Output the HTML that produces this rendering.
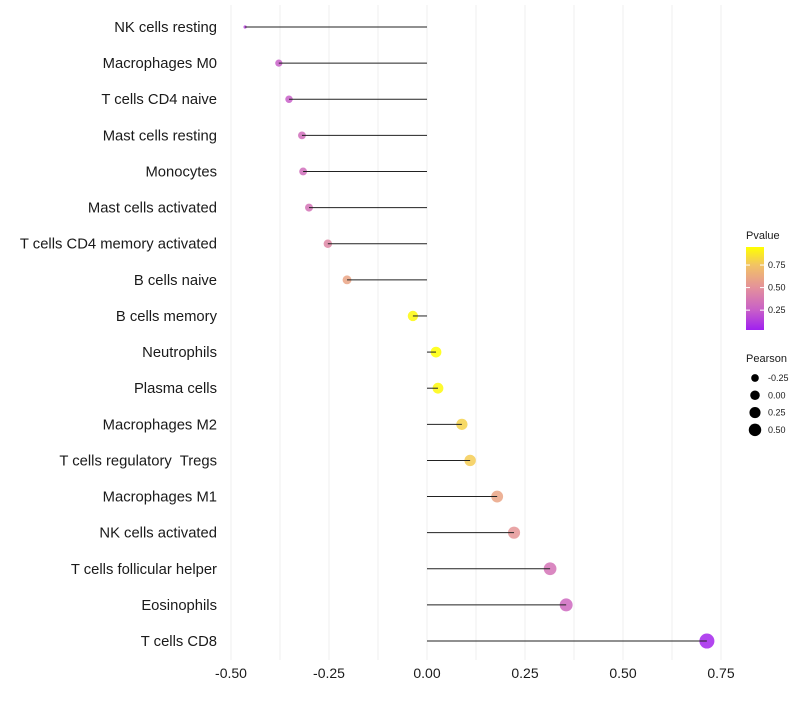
<!DOCTYPE html>
<html><head><meta charset="utf-8"><style>
body{margin:0;background:#fff;font-family:"Liberation Sans",sans-serif;}
text{white-space:pre;}
</style></head><body>
<svg id="c" width="800" height="700" xmlns="http://www.w3.org/2000/svg"></svg>
<script>
const categories=["NK cells resting","Macrophages M0","T cells CD4 naive","Mast cells resting","Monocytes","Mast cells activated","T cells CD4 memory activated","B cells naive","B cells memory","Neutrophils","Plasma cells","Macrophages M2","T cells regulatory  Tregs","Macrophages M1","NK cells activated","T cells follicular helper","Eosinophils","T cells CD8"];
const pearson=[-0.464,-0.378,-0.352,-0.319,-0.316,-0.301,-0.253,-0.204,-0.036,0.023,0.028,0.089,0.110,0.179,0.222,0.314,0.355,0.714];
const pvalue=[0.15,0.25,0.25,0.32,0.32,0.35,0.45,0.6,0.93,0.95,0.93,0.8,0.78,0.6,0.52,0.35,0.3,0.05];
const xTicks=[-0.5,-0.25,0,0.25,0.5,0.75];
const xTickLabels=["-0.50","-0.25","0.00","0.25","0.50","0.75"];
const pTicks=[0.25,0.5,0.75];
const sizeTicks=[-0.25,0,0.25,0.5];

const NS="http://www.w3.org/2000/svg";
const svg=document.getElementById('c');
function el(t,a,p){const e=document.createElementNS(NS,t);for(const k in a)e.setAttribute(k,a[k]);(p||svg).appendChild(e);return e;}
const x=v=>427+v*392;
const y=i=>27+i*36.12;
const rad=v=>v<-0.43?1.6:Math.sqrt(Math.max(1,28+40*v));
const stops=[[0.03,[160,32,240]],[0.25,[200,95,200]],[0.5,[228,145,155]],[0.75,[242,195,100]],[0.95,[255,255,0]]];
function col(p){p=Math.max(0.03,Math.min(0.95,p));for(let i=0;i<stops.length-1;i++){const a=stops[i],b=stops[i+1];if(p<=b[0]){const t=(p-a[0])/(b[0]-a[0]);const c=a[1].map((v,j)=>Math.round(v+(b[1][j]-v)*t));return `rgb(${c})`;}}return 'rgb(255,255,0)';}
const py=p=>330-(p-0.03)/(0.92)*83;

for(let v=-0.5;v<=0.76;v+=0.125){
 const g=el('line',{x1:x(v),x2:x(v),y1:5,y2:660,stroke:'#efefef','stroke-width':1});
 
 
}
xTicks.forEach((v,i)=>{
 const t=el('text',{x:x(v),y:678,'text-anchor':'middle','font-size':14,fill:'#1a1a1a'});t.textContent=xTickLabels[i];
 
 
});
categories.forEach((c,i)=>{
 const t=el('text',{x:217,y:y(i)+5,'text-anchor':'end','font-size':14.8,fill:'#1a1a1a'});t.textContent=c;
 
 
 const ci=el('circle',{cx:x(pearson[i]),cy:y(i),r:rad(pearson[i]),fill:col(pvalue[i]),'fill-opacity':0.85});
 
 
 const l=el('line',{x1:x(0),x2:x(pearson[i]),y1:y(i),y2:y(i),stroke:'#222','stroke-width':1});
 
 
});
const lt=el('text',{x:746,y:239,'font-size':11,fill:'#1a1a1a'});lt.textContent='Pvalue';


const defs=el('defs',{});const lg=el('linearGradient',{id:'g',x1:0,y1:1,x2:0,y2:0},defs);
stops.forEach(s=>el('stop',{offset:(s[0]-0.03)/0.92,'stop-color':`rgb(${s[1]})`},lg));
const bar=el('rect',{x:746,y:247,width:18,height:83,fill:'url(#g)'});


pTicks.forEach(p=>{
 el('line',{x1:746,x2:750,y1:py(p),y2:py(p),stroke:'#fff'});el('line',{x1:760,x2:764,y1:py(p),y2:py(p),stroke:'#fff'});
 const t=el('text',{x:768,y:py(p)+3,'font-size':9,fill:'#1a1a1a'});t.textContent=p.toFixed(2);
 
 
});
const st=el('text',{x:746,y:362,'font-size':11,fill:'#1a1a1a'});st.textContent='Pearson';


sizeTicks.forEach((v,i)=>{
 const yy=378+i*17.3;
 const c=el('circle',{cx:755,cy:yy,r:rad(v)*0.9,fill:'#000'});
 
 
 const t=el('text',{x:768,y:yy+3,'font-size':9,fill:'#1a1a1a'});t.textContent=v.toFixed(2);
 
 
});
</script>
</body></html>
